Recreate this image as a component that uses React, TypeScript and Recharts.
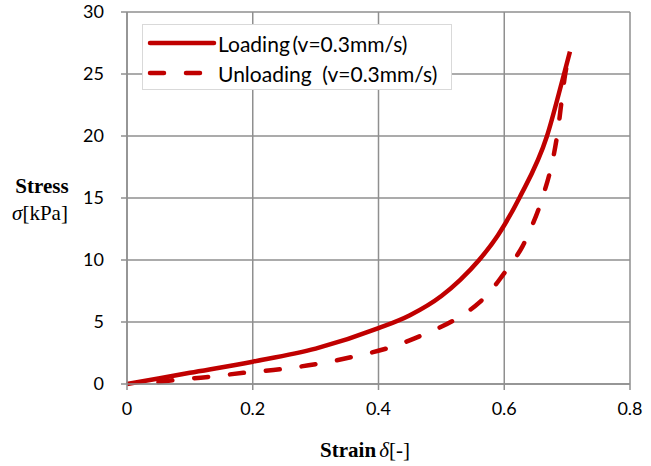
import { LineChart, Line, XAxis, YAxis, CartesianGrid } from 'recharts'

const RED = '#c00000'
const GRID = '#8f8f8f'

const xTicks = [0, 0.2, 0.4, 0.6, 0.8]
const yTicks = [0, 5, 10, 15, 20, 25, 30]

// loading branch (strain, stress kPa)
const loadStrain = [0, 0.1, 0.2, 0.3, 0.4, 0.45, 0.5, 0.53, 0.56, 0.59, 0.625, 0.668, 0.693, 0.7045]
const loadStress = [0, 0.9, 1.8, 2.85, 4.5, 5.55, 7.1, 8.4, 10.0, 12.0, 15.1, 20, 24.6, 26.8]

// unloading branch
const unloadStrain = [0.05, 0.08, 0.125, 0.185, 0.245, 0.3, 0.36, 0.415, 0.47, 0.525, 0.561, 0.58, 0.598, 0.614, 0.629, 0.641, 0.658, 0.684, 0.697, 0.703]
const unloadStress = [0.15, 0.35, 0.55, 0.9, 1.2, 1.6, 2.2, 2.9, 3.95, 5.3, 6.6, 7.6, 8.8, 9.9, 11.1, 12.4, 14.6, 20, 25, 26.6]

const loading = loadStrain.map((x, i) => ({ x, y: loadStress[i] }))
const unloading = unloadStrain.map((x, i) => ({ x, y: unloadStress[i] }))

const legendItems = [
  { label: 'Loading\u2009(v=0.3mm/s)', dash: undefined },
  { label: 'Unloading\u00a0 (v=0.3mm/s)', dash: '14 22' },
]

const tickFont = { fill: '#000', fontSize: 18, fontFamily: 'Lato, sans-serif' }

function LegendBox() {
  return (
    <div
      style={{
        position: 'absolute',
        left: 142,
        top: 24,
        width: 310,
        height: 66,
        border: '1px solid #d9d9d9',
        background: '#fff',
        boxSizing: 'border-box',
        paddingTop: 3,
      }}
    >
      {legendItems.map((r) => (
        <div key={r.label} style={{ display: 'flex', alignItems: 'center', height: 30 }}>
          <svg width={72} height={12} style={{ marginLeft: 3, flex: 'none' }}>
            <line
              x1={4}
              y1={6}
              x2={68}
              y2={6}
              stroke={RED}
              strokeWidth={4.5}
              strokeLinecap="round"
              strokeDasharray={r.dash}
            />
          </svg>
          <span style={{ fontFamily: 'Lato, sans-serif', fontSize: 21, color: '#000', whiteSpace: 'pre' }}>
            {r.label}
          </span>
        </div>
      ))}
    </div>
  )
}

function YTitle() {
  return (
    <g>
      <text x={42} y={193} textAnchor="middle" fontFamily="'Liberation Serif', serif" fontWeight="bold" fontSize={21}>
        Stress
      </text>
      <text x={40} y={220} textAnchor="middle" fontFamily="'Liberation Serif', serif" fontSize={21}>
        <tspan fontStyle="italic">σ</tspan>
        <tspan>[kPa]</tspan>
      </text>
    </g>
  )
}

function XTitle() {
  return (
    <text x={365} y={457} textAnchor="middle" fontFamily="'Liberation Serif', serif" fontSize={21}>
      <tspan fontWeight="bold">Strain</tspan>
      <tspan fontStyle="italic" dx={3}>δ</tspan>
      <tspan>[-]</tspan>
    </text>
  )
}

export default function App() {
  return (
    <div style={{ position: 'absolute', left: 0, top: 0, width: 651, height: 466, background: '#fff' }}>
      <LineChart width={651} height={466} margin={{ top: 12, right: 21, left: 0, bottom: 52 }}>
        <CartesianGrid stroke={GRID} strokeWidth={1.5} />
        <XAxis
          type="number"
          dataKey="x"
          domain={[0, 0.8]}
          ticks={xTicks}
          tickFormatter={(v) => String(v)}
          tick={tickFont}
          stroke={GRID}
          strokeWidth={1.5}
          height={30}
          tickSize={6}
          tickMargin={12}
          allowDuplicatedCategory={false}
          label={<XTitle />}
        />
        <YAxis
          type="number"
          dataKey="y"
          domain={[0, 30]}
          ticks={yTicks}
          tick={tickFont}
          stroke={GRID}
          strokeWidth={1.5}
          width={127}
          tickSize={6}
          tickMargin={17}
          label={<YTitle />}
        />
        <Line
          data={loading}
          dataKey="y"
          name="Loading"
          stroke={RED}
          strokeWidth={4.5}
          dot={false}
          type="monotone"
          isAnimationActive={false}
        />
        <Line
          data={unloading}
          dataKey="y"
          name="Unloading"
          stroke={RED}
          strokeWidth={4.5}
          strokeDasharray="14 22"
          strokeLinecap="round"
          dot={false}
          type="monotone"
          isAnimationActive={false}
        />
      </LineChart>
      <LegendBox />
    </div>
  )
}
